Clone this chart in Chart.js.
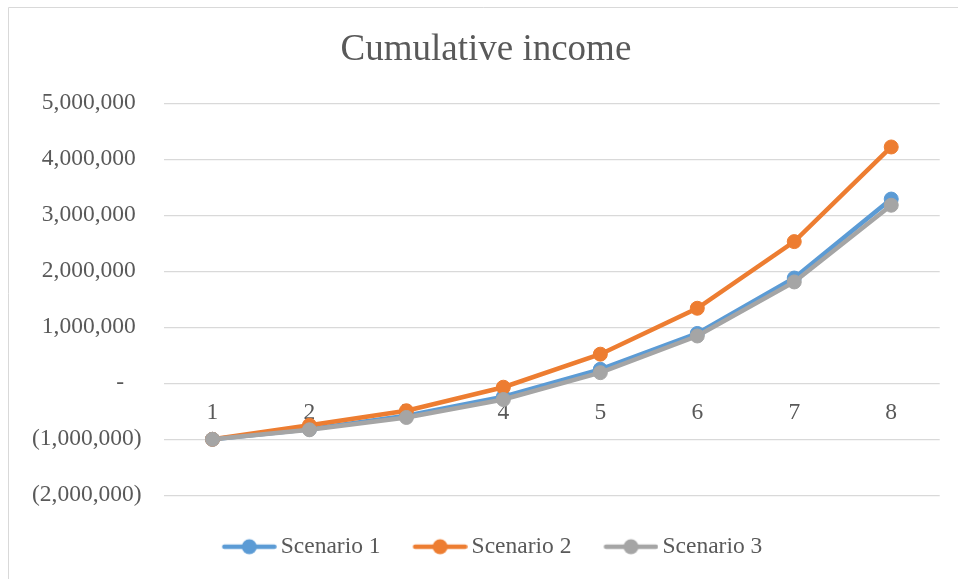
<!DOCTYPE html>
<html>
<head>
<meta charset="utf-8">
<script src="https://cdn.jsdelivr.net/npm/chart.js@4"></script>
<style>
  html, body { margin: 0; padding: 0; background: #fff; overflow: hidden; }
  #wrap { position: relative; width: 958px; height: 579px; }
</style>
</head>
<body>
<div id="wrap"><canvas id="incomeChart"></canvas></div>
<script>
// data
const periods = ['1', '2', '3', '4', '5', '6', '7', '8'];
const scenario1 = [-1000000, -820000, -580000, -240000, 250000, 890000, 1880000, 3290000];
const scenario2 = [-1000000, -750000, -490000, -70000, 520000, 1340000, 2530000, 4220000];
const scenario3 = [-1000000, -830000, -610000, -290000, 190000, 845000, 1810000, 3180000];
const seriesNames = ['Scenario 1', 'Scenario 2', 'Scenario 3'];
const yTickValues = [-2000000, -1000000, 0, 1000000, 2000000, 3000000, 4000000, 5000000];

const TEXT = '#595959';
const GRID = '#d9d9d9';
const colors = ['#5B9BD5', '#ED7D31', '#A5A5A5'];
const FONT = '"Liberation Serif", "Times New Roman", serif';

Chart.defaults.font.family = FONT;
Chart.defaults.color = TEXT;

// accounting style: 1,000,000 / - / (1,000,000)
function formatAccounting(v) {
  if (v === 0) return '-   ';
  const s = Math.abs(v).toLocaleString('en-US');
  return v < 0 ? '(' + s + ')' : s + ' ';
}

// line + dot marker used in the legend
function makeLegendMarker(color) {
  const c = document.createElement('canvas');
  c.width = 75;
  c.height = 18;
  const g = c.getContext('2d');
  g.strokeStyle = color;
  g.lineWidth = 4.5;
  g.lineCap = 'round';
  g.beginPath();
  g.moveTo(22.5, 9);
  g.lineTo(72.5, 9);
  g.stroke();
  g.fillStyle = color;
  g.beginPath();
  g.arc(47.5, 9, 7.5, 0, Math.PI * 2);
  g.fill();
  return c;
}
const legendMarkers = colors.map(makeLegendMarker);

const framePlugin = {
  id: 'frame',
  beforeDraw(chart) {
    const ctx = chart.ctx;
    ctx.save();
    ctx.strokeStyle = GRID;
    ctx.lineWidth = 1;
    ctx.beginPath();
    ctx.moveTo(8.5, chart.height);
    ctx.lineTo(8.5, 7.5);
    ctx.lineTo(chart.width, 7.5);
    ctx.stroke();
    ctx.restore();
  }
};

// category labels sit just under the zero line, like Excel does
const categoryLabelPlugin = {
  id: 'categoryLabels',
  beforeDatasetsDraw(chart) {
    const { ctx, scales } = chart;
    const y0 = scales.y.getPixelForValue(0);
    ctx.save();
    ctx.font = '23.5px ' + FONT;
    ctx.fillStyle = TEXT;
    ctx.textAlign = 'center';
    ctx.textBaseline = 'middle';
    periods.forEach((label, i) => {
      ctx.fillText(label, scales.x.getPixelForValue(i), y0 + 30);
    });
    ctx.restore();
  }
};

function makeDataset(label, data, color, order) {
  return {
    label,
    data,
    order,
    borderColor: color,
    backgroundColor: color,
    borderWidth: 4.5,
    pointRadius: 7,
    pointBorderWidth: 1,
    pointBackgroundColor: color,
    pointBorderColor: color,
    tension: 0
  };
}

const ctx = document.getElementById('incomeChart').getContext('2d');
new Chart(ctx, {
  type: 'line',
  data: {
    labels: periods,
    datasets: [
      makeDataset(seriesNames[0], scenario1, colors[0], 3),
      makeDataset(seriesNames[1], scenario2, colors[1], 2),
      makeDataset(seriesNames[2], scenario3, colors[2], 1)
    ]
  },
  options: {
    responsive: true,
    maintainAspectRatio: false,
    animation: false,
    layout: { padding: { left: 32.1, right: 18.3, top: 0, bottom: 10.5 } },
    scales: {
      x: {
        display: true,
        offset: true,
        // invisible ticks only keep a gap between plot and legend
        grid: { display: true, color: 'transparent', drawOnChartArea: false, drawTicks: true, tickLength: 19.95 },
        border: { display: false },
        ticks: { display: false }
      },
      y: {
        min: -2000000,
        max: 5000000,
        afterBuildTicks: axis => { axis.ticks = yTickValues.map(v => ({ value: v })); },
        afterFit: axis => { axis.width = 131.9; },
        grid: { color: GRID, lineWidth: 1.3, drawTicks: false },
        border: { display: false },
        ticks: {
          padding: 22.3,
          color: TEXT,
          font: { size: 23.5 },
          callback: v => formatAccounting(v)
        }
      }
    },
    plugins: {
      title: {
        display: true,
        text: 'Cumulative income',
        color: TEXT,
        font: { size: 37, weight: 'normal', lineHeight: 1.2 },
        padding: { top: 28.3, bottom: 30.6 }
      },
      legend: {
        display: true,
        position: 'bottom',
        labels: {
          usePointStyle: true,
          pointStyleWidth: 59.5,
          padding: 19.75,
          color: TEXT,
          font: { size: 23.5 },
          generateLabels(chart) {
            const items = Chart.defaults.plugins.legend.labels.generateLabels(chart);
            items.sort((a, b) => a.datasetIndex - b.datasetIndex);
            items.forEach(it => { it.pointStyle = legendMarkers[it.datasetIndex]; });
            return items;
          }
        }
      },
      tooltip: { enabled: false }
    }
  },
  plugins: [framePlugin, categoryLabelPlugin]
});
</script>
</body>
</html>
